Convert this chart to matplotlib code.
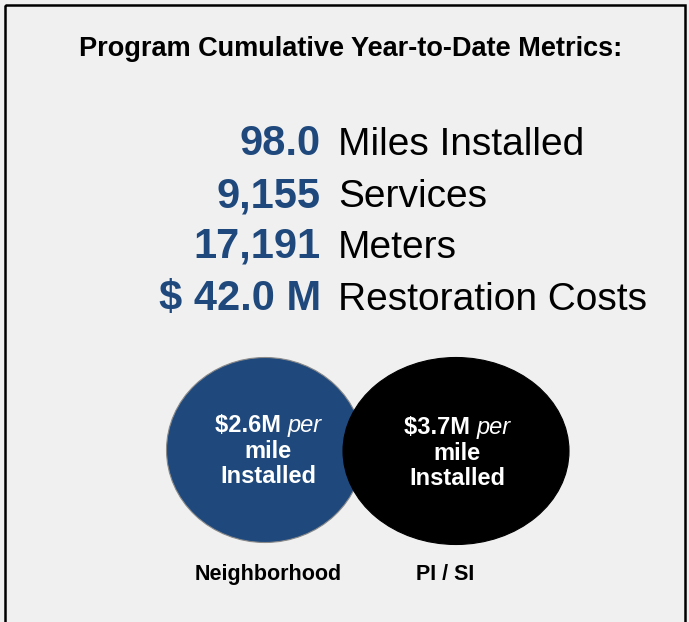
import matplotlib
matplotlib.use("Agg")
import matplotlib.pyplot as plt
from matplotlib.patches import Ellipse, Rectangle

title = "Program Cumulative Year-to-Date Metrics:"
metric_values = ["98.0", "9,155", "17,191", "$ 42.0 M"]
metric_labels = ["Miles Installed", "Services", "Meters", "Restoration Costs"]
circle_amounts = ["$2.6M", "$3.7M"]
circle_categories = ["Neighborhood", "PI / SI"]

BLUE = "#1F497D"
BG = "#F0F0F0"
FONT = "Liberation Sans"

W, H = 689, 622
fig = plt.figure(figsize=(W / 100, H / 100), dpi=100)
fig.patch.set_facecolor(BG)
ax = fig.add_axes([0, 0, 1, 1])
ax.set_xlim(0, W)
ax.set_ylim(H, 0)
ax.axis("off")
ax.set_facecolor(BG)

# frame
ax.add_patch(Rectangle((5, 5), 680, 640, fill=False, edgecolor="black", linewidth=1.8))

ax.text(351, 56.5, title, ha="center", va="baseline", fontsize=19.5, fontweight="bold",
        family=FONT, color="black")

ys = [155, 207, 258, 310]
for v, lab, y in zip(metric_values, metric_labels, ys):
    ax.text(321, y, v, ha="right", va="baseline", fontsize=30, fontweight="bold",
            family=FONT, color=BLUE)
    ax.text(338, y, lab, ha="left", va="baseline", fontsize=28, family=FONT, color="black")

# circles
circles = [((265, 450), 197, 185, BLUE, "#8a8a8a"), ((456, 451), 226, 187, "black", "black")]
text_x = [268, 457]
text_y = [432, 434]
label_x = [268, 445]
FS = 17
for (c, w, h, fc, ec), amt, cat, tx, y0, lx in zip(circles, circle_amounts, circle_categories,
                                                   text_x, text_y, label_x):
    ax.add_patch(Ellipse(c, w, h, facecolor=fc, edgecolor=ec, linewidth=0.8))
    t1 = ax.text(0, 0, amt + " ", fontsize=FS, fontweight="bold", family=FONT, color="white")
    t2 = ax.text(0, 0, "per", fontsize=FS, style="italic", family=FONT, color="white")
    fig.canvas.draw()
    r = fig.canvas.get_renderer()
    w1 = t1.get_window_extent(r).width
    w2 = t2.get_window_extent(r).width
    start = tx - (w1 + w2) / 2
    t1.set_position((start, y0)); t1.set_va("baseline"); t1.set_ha("left")
    t2.set_position((start + w1, y0)); t2.set_va("baseline"); t2.set_ha("left")
    ax.text(tx, y0 + 25.5, "mile", ha="center", va="baseline", fontsize=FS,
            fontweight="bold", family=FONT, color="white")
    ax.text(tx, y0 + 51, "Installed", ha="center", va="baseline", fontsize=FS,
            fontweight="bold", family=FONT, color="white")
    ax.text(lx, 580, cat, ha="center", va="baseline", fontsize=15.5, fontweight="bold",
            family=FONT, color="black")

fig.savefig("out.png", dpi=100, facecolor=BG)
